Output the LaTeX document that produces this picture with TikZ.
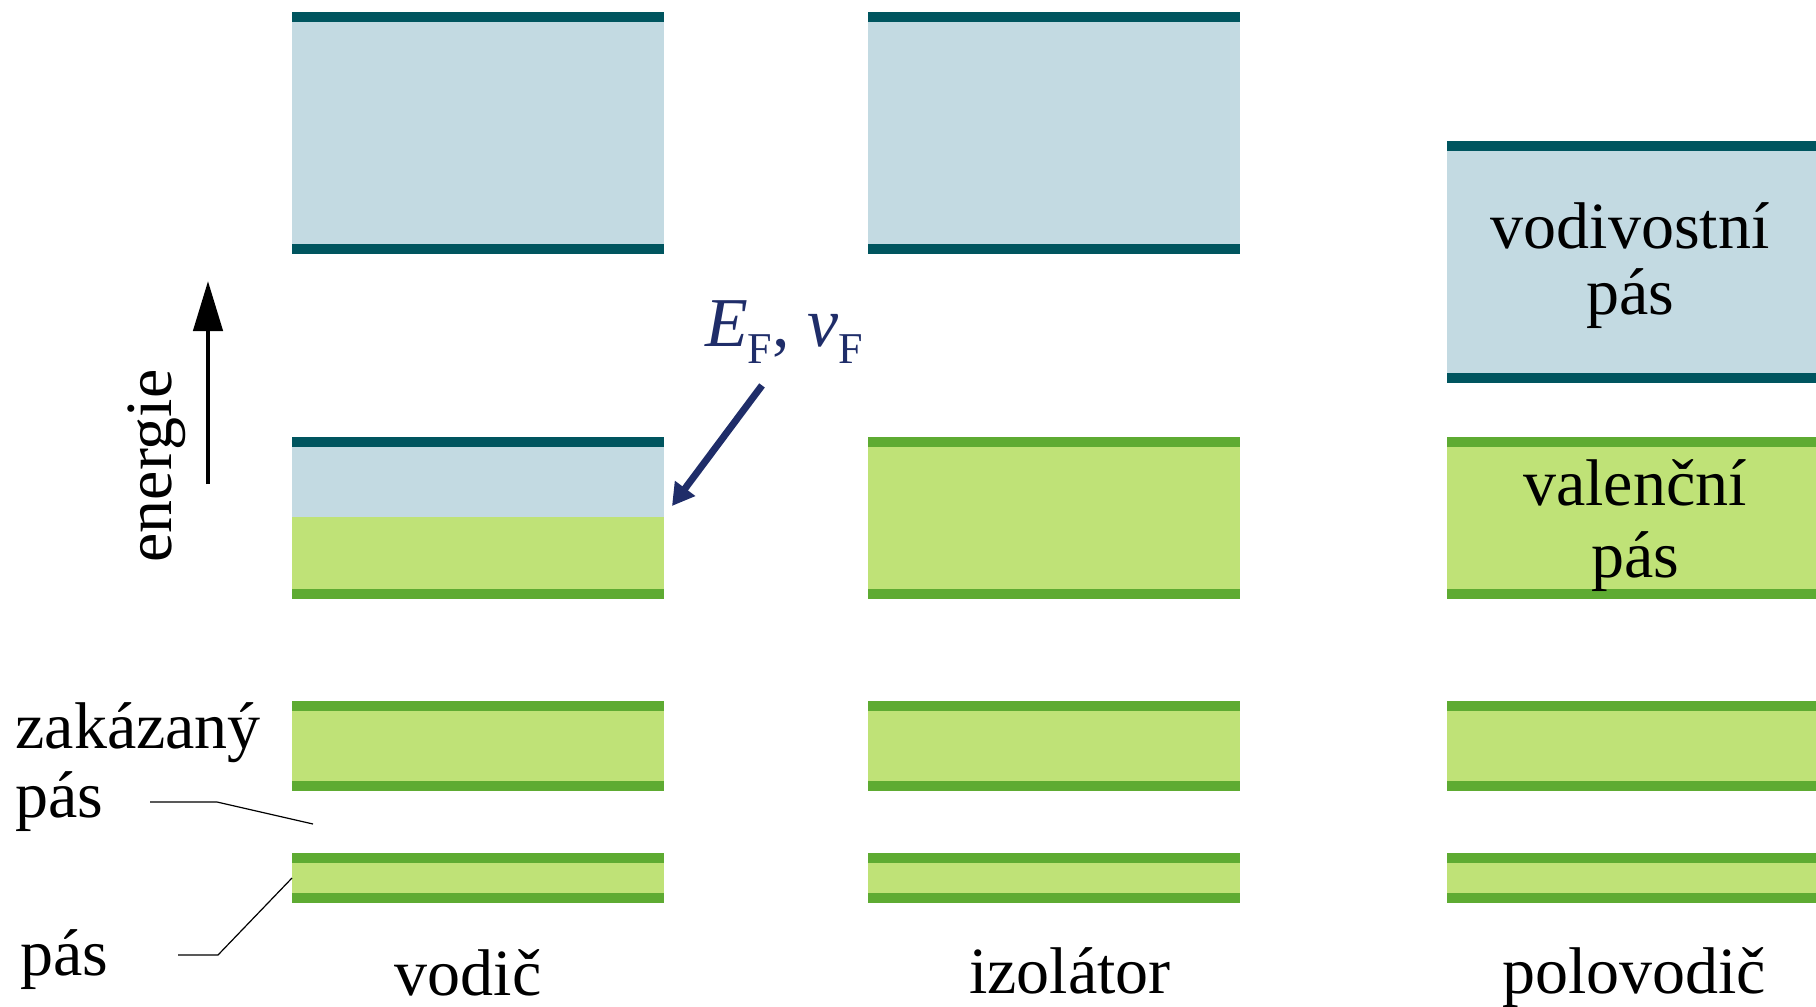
\documentclass[tikz,border=0pt]{standalone}
\usepackage{fontspec}
\setmainfont{Liberation Serif}
\usetikzlibrary{arrows.meta}

\definecolor{condline}{RGB}{0,85,95}
\definecolor{condfill}{RGB}{195,218,226}
\definecolor{valline}{RGB}{94,171,50}
\definecolor{valfill}{RGB}{191,226,119}
\definecolor{fermiblue}{RGB}{31,45,105}

\newcommand\labelfont{\fontsize{33}{34.5}\selectfont}
\newcommand\fsub{\raisebox{-8.5pt}{\fontsize{22}{22}\selectfont F}}

\begin{document}
\begin{tikzpicture}[x=0.5pt, y=-0.5pt,
		band/.style n args={3}{
			anchor=north west, inner sep=0pt, outer sep=0pt,
			minimum width=186pt, fill=#1,
			path picture={
				\fill[#2] (path picture bounding box.north west) rectangle ([yshift=-5pt]path picture bounding box.north east);
				\fill[#3] (path picture bounding box.south west) rectangle ([yshift=5pt]path picture bounding box.south east);
			}},
		condband/.style={band={condfill}{condline}{condline}},
		valband/.style={band={valfill}{valline}{valline}},
		txt/.style={font=\labelfont, inner sep=0pt},
		leaderline/.style={line width=0.6pt},
	]
	\useasboundingbox (0,0) rectangle (1816,1007);

	% vodivostni pasy
	\node[condband, minimum height=121pt] (vod-a) at (292,12) {};
	\node[condband, minimum height=121pt] (izo-a) at (868,12) {};
	\node[condband, minimum height=121pt] (pol-a) at (1447,141) {};

	% valencni pasy
	\node[band={valfill}{condline}{valline}, minimum height=81pt] (vod-b) at (292,437) {};
	\fill[condfill] ([yshift=-5pt]vod-b.north west) rectangle ([yshift=-40pt]vod-b.north east);
	\node[valband, minimum height=81pt] (izo-b) at (868,437) {};
	\node[valband, minimum height=81pt] (pol-b) at (1447,437) {};

	% nizsi pasy
	\foreach \col/\x in {vod/292, izo/868, pol/1447} {
		\node[valband, minimum height=45pt] (\col-c) at (\x,701) {};
		\node[valband, minimum height=25pt] (\col-d) at (\x,853) {};
	}

	% popisky
	\node[txt, anchor=base, align=center, font=\fontsize{33}{33}\selectfont] (condtext) at (1630,314) {vodivostní\\pás};
	\node[txt, anchor=base, align=center, font=\fontsize{33}{36}\selectfont] (valtext) at (1635,577) {valenční\\pás};

	\node[txt, anchor=base] (vodname) at (468,995) {vodič};
	\node[txt, anchor=base] (izoname) at (1070,993) {izolátor};
	\node[txt, anchor=base] (polname) at (1634,993) {polovodič};

	\node[txt, anchor=south west, align=left] (gaptext) at (15,832) {zakázaný\\pás};
	\coordinate (gapend) at (313,824);
	\draw[leaderline] ([shift={(67.5pt,15pt)}]gaptext.south west) -- ++(33.5pt,0) -- (gapend);

	\node[txt, anchor=south west] (bandtext) at (20,990) {pás};
	\draw[leaderline] ([shift={(79pt,17.5pt)}]bandtext.south west) -- ++(20pt,0) -- (vod-d.west);

	% osa energie
	\node[txt, rotate=90, anchor=base] (energytext) at (171,466) {energie};
	\coordinate (energyfoot) at (208,484);
	\coordinate (energytip) at (208,281);
	\draw[line width=2.3pt, -{Triangle[length=25pt,width=14.5pt]}] (energyfoot) -- (energytip);

	% Fermiho mez
	\node[txt, anchor=base, text=fermiblue, font=\fontsize{35}{35}\selectfont] (fermitext) at (784,346) {\textit{E}\fsub, \textit{v}\fsub};
	\draw[fermiblue, line width=3.5pt, -{Triangle[length=11pt,width=12pt]}] ([shift={(-11pt,-11pt)}]fermitext.south) -- ([shift={(4pt,6pt)}]vod-b.east);
\end{tikzpicture}
\end{document}
